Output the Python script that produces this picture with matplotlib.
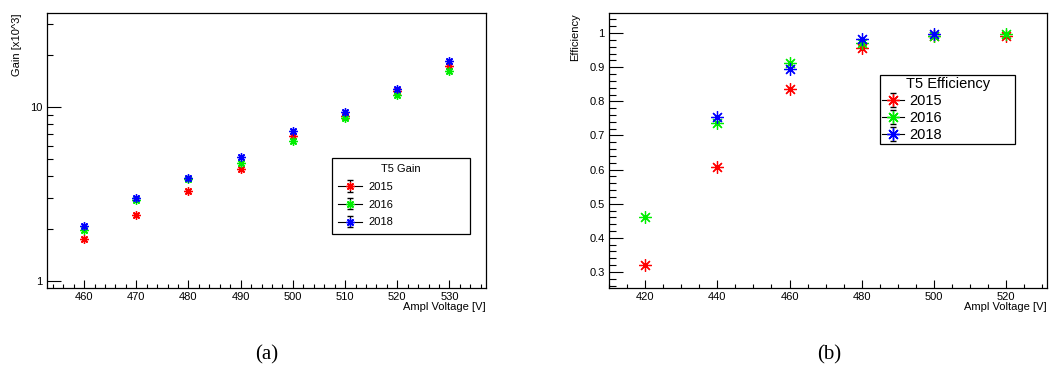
import numpy as np
import matplotlib
matplotlib.use('Agg')
import matplotlib.pyplot as plt
from matplotlib.ticker import MultipleLocator, FixedLocator, FuncFormatter, NullFormatter

plt.rcParams['font.family'] = ['Liberation Sans', 'DejaVu Sans']

# ---- data: gain (x10^3) vs amplifier voltage
gain_volt = [460, 470, 480, 490, 500, 510, 520, 530]
gain_2015 = [1.75, 2.40, 3.28, 4.37, 6.77, 8.84, 12.3, 17.1]
gain_2016 = [1.96, 2.92, 3.86, 4.79, 6.37, 8.60, 11.7, 16.1]
gain_2018 = [2.08, 3.00, 3.89, 5.15, 7.30, 9.36, 12.7, 18.3]

# ---- data: efficiency vs amplifier voltage
eff_volt_2015 = [420, 440, 460, 480, 500, 520]
eff_2015 = [0.319, 0.608, 0.836, 0.957, 0.991, 0.992]
eff_volt_2016 = [420, 440, 460, 480, 500, 520]
eff_2016 = [0.462, 0.737, 0.911, 0.970, 0.993, 0.996]
eff_volt_2018 = [440, 460, 480, 500]
eff_2018 = [0.755, 0.896, 0.982, 0.997]

YEARS = ['2015', '2016', '2018']
COLORS = ['#ff0000', '#00ee00', '#0000ff']
STAR = (8, 2, 0)   # 8-arm asterisk like ROOT marker 3
FS = 8.0

W, H = 1050, 369
fig = plt.figure(figsize=(W / 100, H / 100), dpi=100)

def px_axes(x0, x1, y0, y1):
    return fig.add_axes([x0 / W, (H - y1) / H, (x1 - x0) / W, (y1 - y0) / H])

ax1 = px_axes(47, 486, 13, 288)
ax2 = px_axes(609, 1047, 13, 288)

def legend_proxies(ax, ms):
    hs = []
    for c, lab in zip(COLORS, YEARS):
        h = ax.errorbar([np.nan], [np.nan], yerr=[np.nan], fmt='-', color='k', lw=0.8,
                        marker=STAR, ms=ms, mec=c, mfc=c, mew=1.0,
                        ecolor='k', elinewidth=0.8, capsize=2, capthick=0.8, label=lab)
        hs.append(h)
    return hs

# ---- (a) gain
for ys, c in zip([gain_2015, gain_2016, gain_2018], COLORS):
    ax1.plot(gain_volt, ys, ls='none', marker=STAR, ms=6, mec=c, mfc=c, mew=1.0)
ax1.set_yscale('log')
ax1.set_xlim(452.9, 537)
ax1.set_ylim(0.91, 34.7)
ax1.xaxis.set_major_locator(MultipleLocator(10))
ax1.xaxis.set_minor_locator(MultipleLocator(2))
ax1.yaxis.set_major_locator(FixedLocator([1, 10]))
ax1.yaxis.set_minor_locator(FixedLocator([2, 3, 4, 5, 6, 7, 8, 9, 20, 30]))
ax1.yaxis.set_major_formatter(FuncFormatter(lambda v, p: '%g' % v))
ax1.yaxis.set_minor_formatter(NullFormatter())
ax1.tick_params(axis='x', which='major', direction='in', length=6, width=0.8, labelsize=FS, pad=3,
                top=False)
ax1.tick_params(axis='x', which='minor', direction='in', length=3, width=0.8, top=False)
ax1.tick_params(axis='y', which='major', direction='in', length=10, width=0.8, labelsize=FS, pad=3,
                right=False)
ax1.tick_params(axis='y', which='minor', direction='in', length=4.5, width=0.8, right=False)

h1 = legend_proxies(ax1, 6)
leg1 = ax1.legend(handles=h1, title='T5 Gain', loc='upper left',
                  bbox_to_anchor=(0.649, 0.4727, 0.3146, 0.0), mode='expand',
                  fontsize=FS, title_fontsize=FS, frameon=True, fancybox=False,
                  edgecolor='k', framealpha=1, borderpad=0.55, labelspacing=0.7,
                  handlelength=2.2, handletextpad=0.5, borderaxespad=0)
leg1.get_frame().set_linewidth(0.9)

# ---- (b) efficiency
for xs, ys, c in zip([eff_volt_2015, eff_volt_2016, eff_volt_2018],
                     [eff_2015, eff_2016, eff_2018], COLORS):
    ax2.plot(xs, ys, ls='none', marker=STAR, ms=9, mec=c, mfc=c, mew=0.9)
ax2.set_xlim(410, 531.3)
ax2.set_ylim(0.253, 1.059)
ax2.xaxis.set_major_locator(MultipleLocator(20))
ax2.xaxis.set_minor_locator(MultipleLocator(5))
ax2.yaxis.set_major_locator(MultipleLocator(0.1))
ax2.yaxis.set_minor_locator(MultipleLocator(0.02))
ax2.yaxis.set_major_formatter(FuncFormatter(lambda v, p: '%g' % round(v, 2)))
ax2.tick_params(axis='x', which='major', direction='in', length=6, width=0.8, labelsize=FS, pad=3,
                top=False)
ax2.tick_params(axis='x', which='minor', direction='in', length=3, width=0.8, top=False)
ax2.tick_params(axis='y', which='major', direction='in', length=10, width=0.8, labelsize=FS, pad=3,
                right=False)
ax2.tick_params(axis='y', which='minor', direction='in', length=5, width=0.8, right=False)

h2 = legend_proxies(ax2, 9)
leg2 = ax2.legend(handles=h2, title='T5 Efficiency', loc='upper left',
                  bbox_to_anchor=(0.619, 0.7745, 0.308, 0.0), mode='expand',
                  fontsize=10.5, title_fontsize=10.5, frameon=True, fancybox=False,
                  edgecolor='k', framealpha=1, borderpad=0.15, labelspacing=0.2,
                  handlelength=1.5, handletextpad=0.35, borderaxespad=0)
leg2.get_frame().set_linewidth(0.9)

for ax in (ax1, ax2):
    for s in ax.spines.values():
        s.set_linewidth(0.9)
        s.set_color('k')

# axis titles, ROOT style (top-left and bottom-right)
fig.text(16.5 / W, 1 - 13 / H, 'Gain [x10^3]', rotation=90, ha='center', va='top', fontsize=FS)
fig.text(486 / W, 1 - 307 / H, 'Ampl Voltage [V]', ha='right', va='center', fontsize=FS)
fig.text(575 / W, 1 - 13 / H, 'Efficiency', rotation=90, ha='center', va='top', fontsize=FS)
fig.text(1047 / W, 1 - 307 / H, 'Ampl Voltage [V]', ha='right', va='center', fontsize=FS)

# sub-figure captions
fig.text(267 / W, 1 - 355 / H, '(a)', ha='center', va='center', fontsize=15,
         family=['Liberation Serif', 'DejaVu Serif'])
fig.text(829 / W, 1 - 355 / H, '(b)', ha='center', va='center', fontsize=15,
         family=['Liberation Serif', 'DejaVu Serif'])

fig.savefig('out.png', dpi=100)
